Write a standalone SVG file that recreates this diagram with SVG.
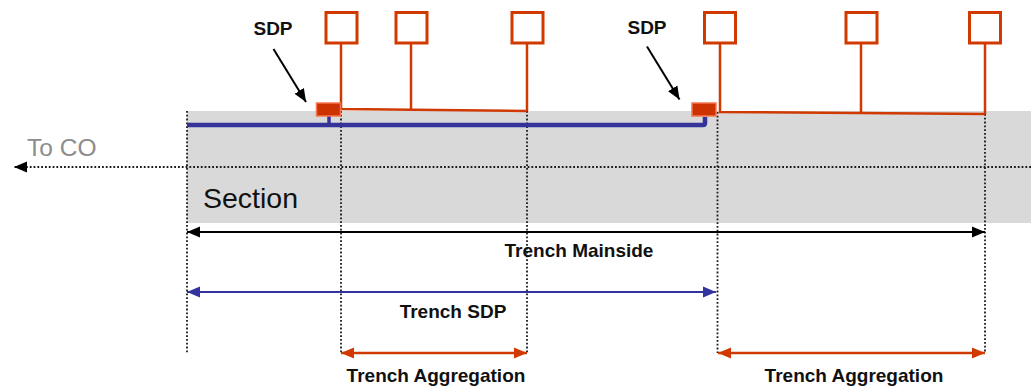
<svg xmlns="http://www.w3.org/2000/svg" width="1031" height="387" viewBox="0 0 1031 387">
<style>
.dot{stroke:#1a1a1a;stroke-width:1.8;stroke-dasharray:1.8,2;fill:none}
.or{stroke:#d03a00;stroke-width:2.5;fill:none}
.box{stroke:#d03a00;stroke-width:3;fill:#fff}
.sdp{fill:#cc3300;stroke:#f5774f;stroke-width:1.5}
.lbl{font-family:"Liberation Sans",Arial,sans-serif;font-weight:bold;font-size:19px;fill:#111;text-anchor:middle}
</style>
<defs>
<marker id="ak" markerUnits="userSpaceOnUse" markerWidth="14" markerHeight="12" refX="13" refY="6" orient="auto-start-reverse"><path d="M0,0.5 L13,6 L0,11.5 Z" fill="#000"/></marker>
<marker id="ab" markerUnits="userSpaceOnUse" markerWidth="14" markerHeight="12" refX="13" refY="6" orient="auto-start-reverse"><path d="M0,0.5 L13,6 L0,11.5 Z" fill="#3333a0"/></marker>
<marker id="ao" markerUnits="userSpaceOnUse" markerWidth="14" markerHeight="12" refX="13" refY="6" orient="auto-start-reverse"><path d="M0,0.5 L13,6 L0,11.5 Z" fill="#d03a00"/></marker>
<marker id="ap" markerUnits="userSpaceOnUse" markerWidth="14" markerHeight="12" refX="13" refY="6" orient="auto"><path d="M0,0.5 L13,6 L0,11.5 Z" fill="#000"/></marker>
</defs>
<rect id="band" x="187" y="111" width="844" height="112" fill="#d9d9d9"/>
<g id="connectors">
<line class="dot" x1="1031" y1="167" x2="14" y2="167" marker-end="url(#ak)"/>
<line class="dot" x1="187" y1="111" x2="187" y2="353"/>
<line class="dot" x1="341" y1="111" x2="341" y2="353"/>
<line class="dot" x1="527" y1="111" x2="527" y2="353"/>
<line class="dot" x1="717.5" y1="112" x2="717.5" y2="353"/>
<line class="dot" x1="985" y1="114" x2="985" y2="353"/>
<path d="M187,125 H703 Q705,125 705,123 V117" fill="none" stroke="#333399" stroke-width="4.5"/>
<line x1="329" y1="116" x2="329" y2="125" stroke="#333399" stroke-width="3.5"/>
<path class="or" d="M341,43 V109 L527,111 M411,43 V109.4 M527,43 V111"/>
<path class="or" d="M720,43 V112 L985,114 M861,43 V113 M985,43 V114"/>
<line x1="273.5" y1="49" x2="306" y2="102" stroke="#000" stroke-width="2" marker-end="url(#ap)"/>
<line x1="647" y1="46.5" x2="679.5" y2="99.5" stroke="#000" stroke-width="2" marker-end="url(#ap)"/>
<line x1="187" y1="232" x2="985" y2="232" stroke="#000" stroke-width="1.8" marker-start="url(#ak)" marker-end="url(#ak)"/>
<line x1="187" y1="292" x2="716" y2="292" stroke="#3333a0" stroke-width="2" marker-start="url(#ab)" marker-end="url(#ab)"/>
<line x1="341" y1="353" x2="527" y2="353" stroke="#d03a00" stroke-width="2.5" marker-start="url(#ao)" marker-end="url(#ao)"/>
<line x1="718" y1="353" x2="985" y2="353" stroke="#d03a00" stroke-width="2.5" marker-start="url(#ao)" marker-end="url(#ao)"/>
</g>
<g id="sdp1"><rect class="sdp" x="316.5" y="103" width="24" height="13"/></g>
<g id="sdp2"><rect class="sdp" x="692" y="103" width="24" height="13"/></g>
<g id="home1"><rect class="box" x="326" y="12.5" width="31" height="30.5"/></g>
<g id="home2"><rect class="box" x="396" y="12.5" width="31" height="30.5"/></g>
<g id="home3"><rect class="box" x="512" y="12.5" width="31" height="30.5"/></g>
<g id="home4"><rect class="box" x="704.5" y="12.5" width="31" height="30.5"/></g>
<g id="home5"><rect class="box" x="846" y="12.5" width="31" height="30.5"/></g>
<g id="home6"><rect class="box" x="969.5" y="12.5" width="31" height="30.5"/></g>
<g id="labels">
<text class="lbl" x="273" y="35">SDP</text>
<text class="lbl" x="647" y="33.5">SDP</text>
<text x="27" y="156" font-family="Liberation Sans,Arial,sans-serif" font-size="24.5" fill="#8c8c8c">To CO</text>
<text x="203" y="208" font-family="Liberation Sans,Arial,sans-serif" font-size="28.5" fill="#111">Section</text>
<text class="lbl" x="579" y="257">Trench Mainside</text>
<text class="lbl" x="453" y="318">Trench SDP</text>
<text class="lbl" x="436" y="382">Trench Aggregation</text>
<text class="lbl" x="854" y="382">Trench Aggregation</text>
</g>
</svg>
